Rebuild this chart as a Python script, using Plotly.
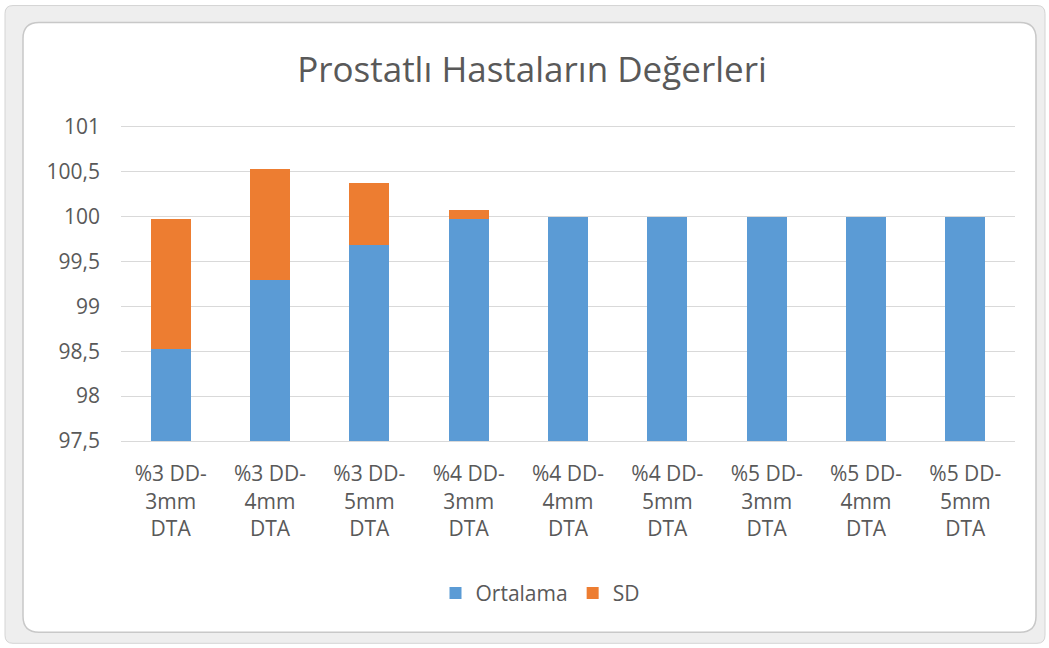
import plotly.graph_objects as go

categories = ["%3 DD-<br>3mm<br>DTA", "%3 DD-<br>4mm<br>DTA", "%3 DD-<br>5mm<br>DTA",
              "%4 DD-<br>3mm<br>DTA", "%4 DD-<br>4mm<br>DTA", "%4 DD-<br>5mm<br>DTA",
              "%5 DD-<br>3mm<br>DTA", "%5 DD-<br>4mm<br>DTA", "%5 DD-<br>5mm<br>DTA"]
ortalama = [98.52, 99.29, 99.69, 99.98, 100, 100, 100, 100, 100]
sd = [1.46, 1.24, 0.69, 0.10, 0, 0, 0, 0, 0]

W, H = 1049, 648
L, R, T, B = 121, 1015, 126.7, 441.3
pw, ph = R - L, B - T

def px(x):
    return (x - L) / pw

def py(y):
    return (B - y) / ph

def rrect(x0, y0, x1, y1, r):
    pts = []
    pts.append(f"M {px(x0 + r)},{py(y0)}")
    pts.append(f"L {px(x1 - r)},{py(y0)}")
    pts.append(f"Q {px(x1)},{py(y0)} {px(x1)},{py(y0 + r)}")
    pts.append(f"L {px(x1)},{py(y1 - r)}")
    pts.append(f"Q {px(x1)},{py(y1)} {px(x1 - r)},{py(y1)}")
    pts.append(f"L {px(x0 + r)},{py(y1)}")
    pts.append(f"Q {px(x0)},{py(y1)} {px(x0)},{py(y1 - r)}")
    pts.append(f"L {px(x0)},{py(y0 + r)}")
    pts.append(f"Q {px(x0)},{py(y0)} {px(x0 + r)},{py(y0)}")
    pts.append("Z")
    return " ".join(pts)

fig = go.Figure()
fig.add_trace(go.Bar(x=categories, y=ortalama, name="Ortalama",
                     marker=dict(color="#5B9BD5", line=dict(width=0))))
fig.add_trace(go.Bar(x=categories, y=sd, name="SD",
                     marker=dict(color="#ED7D31", line=dict(width=0))))

font_family = "Open Sans, Noto Sans, sans-serif"
txt = "#595959"

fig.update_layout(
    barmode="stack",
    bargap=0.6,
    width=W, height=H,
    separators=",.",
    paper_bgcolor="white",
    plot_bgcolor="rgba(0,0,0,0)",
    margin=dict(l=L, r=W - R, t=T, b=H - B, pad=0),
    font=dict(family=font_family, color=txt),
    title=dict(text="Prostatlı Hastaların Değerleri", x=532 / W, xanchor="center", xref="container",
               y=1 - 70 / H, yanchor="middle", yref="container",
               font=dict(size=35, color=txt, family=font_family)),
    xaxis=dict(showgrid=False, showline=True, mirror=True, linecolor="#d9d9d9", linewidth=1,
               ticks="", tickfont=dict(size=21, color=txt), zeroline=False,
               ticklabelstandoff=14),
    yaxis=dict(range=[97.5, 101], dtick=0.5, tick0=97.5, showgrid=True, gridcolor="#d9d9d9",
               gridwidth=1, zeroline=False, showline=False, ticks="",
               tickfont=dict(size=21, color=txt), ticklabelstandoff=20),
    legend=dict(orientation="h", x=px(540), xanchor="center", y=py(594), yanchor="middle",
                font=dict(size=21, color=txt), itemwidth=30, traceorder="normal",
                bgcolor="rgba(0,0,0,0)"),
    shapes=[
        dict(type="path", xref="paper", yref="paper", layer="below",
             path=rrect(5, 5, 1045, 644, 8), fillcolor="#eeeeee",
             line=dict(color="#d4d4d4", width=1)),
        dict(type="path", xref="paper", yref="paper", layer="below",
             path=rrect(23, 22, 1036, 633, 16), fillcolor="white",
             line=dict(color="#c8c8c8", width=1.5)),
    ],
)

fig.write_html("out.html", config={"displayModeBar": False},
               post_script="document.body.style.margin='0';document.body.style.padding='0';document.body.style.overflow='hidden';")
